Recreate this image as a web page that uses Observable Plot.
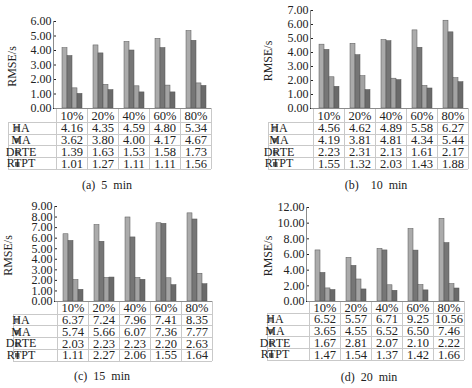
<!DOCTYPE html>
<html><head><meta charset="utf-8">
<script src="https://cdn.jsdelivr.net/npm/d3@7"></script>
<script src="https://cdn.jsdelivr.net/npm/@observablehq/plot@0.6"></script>
<style>
body{margin:0;background:#fff;}
#wrap{position:relative;width:472px;height:388px;font-family:"Liberation Serif","Times New Roman",serif;}
.panel{position:absolute;width:236px;height:194px;}
.cap{position:absolute;font-size:12px;white-space:pre;transform:translateX(-50%);color:#222;line-height:14px;}
</style></head><body><div id="wrap"></div>
<script>
const categories = ["10%","20%","40%","60%","80%"];
const seriesNames = ["HA","MA","DRTE","RTPT"];
const captions = ["(a)  5  min","(b)    10  min","(c)  15  min","(d)  20  min"];
const yLabel = "RMSE/s";

// (a) 5 min
const ha5   = [4.16,4.35,4.59,4.80,5.34];
const ma5   = [3.62,3.80,4.00,4.17,4.67];
const drte5 = [1.39,1.63,1.53,1.58,1.73];
const rtpt5 = [1.01,1.27,1.11,1.11,1.56];
// (b) 10 min
const ha10   = [4.56,4.62,4.89,5.58,6.27];
const ma10   = [4.19,3.81,4.81,4.34,5.44];
const drte10 = [2.23,2.31,2.13,1.61,2.17];
const rtpt10 = [1.55,1.32,2.03,1.43,1.88];
// (c) 15 min
const ha15   = [6.37,7.24,7.96,7.41,8.35];
const ma15   = [5.74,5.66,6.07,7.36,7.77];
const drte15 = [2.03,2.23,2.23,2.20,2.63];
const rtpt15 = [1.11,2.27,2.06,1.55,1.64];
// (d) 20 min
const ha20   = [6.52,5.57,6.71,9.25,10.56];
const ma20   = [3.65,4.55,6.52,6.50,7.46];
const drte20 = [1.67,2.81,2.07,2.10,2.22];
const rtpt20 = [1.47,1.54,1.37,1.42,1.66];

const yMaxes = [6,7,9,12];
const ySteps = [1,1,1,2];

const colors = ["#ababab","#767676","#a3a3a3","#6a6a6a"];
const FONT = '"Liberation Serif","Times New Roman",serif';

const panelSeries = [
  [ha5,ma5,drte5,rtpt5],
  [ha10,ma10,drte10,rtpt10],
  [ha15,ma15,drte15,rtpt15],
  [ha20,ma20,drte20,rtpt20]
];

// layout (pixels)
const layouts = [
  {ox:0,  oy:0,   ml:54, right:213, top:21, base:108, hh:13.7, rh:11.8, tl:8,  sw:7, lab:13, ylx:12, capX:107, capY:178},
  {ox:236,oy:0,   ml:75, right:233, top:10, base:108, hh:13.7, rh:11.8, tl:32, sw:5, lab:11, ylx:32, capX:140, capY:178},
  {ox:0,  oy:194, ml:55, right:213, top:12, base:107, hh:12.5, rh:11.8, tl:13, sw:2, lab:8,  ylx:8,  capX:102, capY:175},
  {ox:236,oy:194, ml:71, right:230, top:13, base:107, hh:11.7, rh:11.8, tl:31, sw:2, lab:8,  ylx:32, capX:133, capY:176}
];

const wrap = document.getElementById("wrap");

panelSeries.forEach((vals, p) => {
  const L = layouts[p];
  const data = [];
  seriesNames.forEach((s, i) => categories.forEach((c, j) => data.push({cat:c, series:s, value:vals[i][j]})));
  const tableBottom = L.base + L.hh + 4*L.rh;
  const H = Math.ceil(tableBottom) + 2;
  const ymax = yMaxes[p], step = ySteps[p];
  const plot = Plot.plot({
    width:236, height:H,
    marginLeft:L.ml, marginRight:236-L.right, marginTop:L.top, marginBottom:H-L.base,
    style:{fontFamily:FONT, fontSize:"12px", color:"#222", background:"transparent", overflow:"visible"},
    fx:{domain:categories, padding:0, axis:null, label:null},
    x:{domain:seriesNames, paddingInner:0, paddingOuter:0.6, axis:null},
    y:{domain:[0,ymax], ticks:d3.range(0,ymax+1e-9,step), tickFormat:d=>d.toFixed(2), tickSize:3, tickPadding:2, label:null},
    color:{domain:seriesNames, range:colors},
    marks:[
      Plot.barY(data, {fx:"cat", x:"series", y:"value", fill:"series", stroke:"#555", strokeWidth:0.5})
    ]
  });
  const div = document.createElement("div");
  div.className = "panel";
  div.style.left = L.ox + "px";
  div.style.top = L.oy + "px";
  div.appendChild(plot);
  wrap.appendChild(div);

  const svgEl = plot.tagName.toLowerCase() === "svg" ? plot : plot.querySelector("svg");
  const svg = d3.select(svgEl);
  const fx = plot.scale("fx");
  const bw = fx.bandwidth;
  const xs = categories.map(c => fx.apply(c));
  const xRight = xs[xs.length-1] + bw;
  const g = svg.append("g").attr("shape-rendering","crispEdges");
  const grid = "#c9c9c9";
  xs.concat([xRight]).forEach(x => {
    g.append("line").attr("x1",Math.round(x)+0.5).attr("x2",Math.round(x)+0.5)
      .attr("y1",L.base).attr("y2",tableBottom).attr("stroke",grid);
  });
  g.append("line").attr("x1",L.tl+0.5).attr("x2",L.tl+0.5)
    .attr("y1",L.base+L.hh).attr("y2",tableBottom).attr("stroke",grid);
  for (let k = 0; k <= 4; k++) {
    const y = Math.round(L.base + L.hh + k*L.rh) + 0.5;
    g.append("line").attr("x1",L.tl).attr("x2",xRight).attr("y1",y).attr("y2",y).attr("stroke",grid);
  }
  g.append("line").attr("x1",L.ml).attr("x2",xRight).attr("y1",L.base+0.5).attr("y2",L.base+0.5).attr("stroke","#8c8c8c");
  g.append("line").attr("x1",L.ml-0.5).attr("x2",L.ml-0.5).attr("y1",L.top).attr("y2",L.base).attr("stroke","#8c8c8c");
  const tg = svg.append("g").attr("font-family",FONT).attr("fill","#222");
  // header row
  categories.forEach(c => {
    tg.append("text").attr("x",Math.round(fx.apply(c)+bw/2)).attr("y",L.base+L.hh/2+1)
      .attr("dy","0.32em").attr("text-anchor","middle").attr("font-size",12.5).text(c);
  });
  // value rows + legend
  seriesNames.forEach((s, i) => {
    const yc = L.base + L.hh + L.rh*i + L.rh/2 + 0.5;
    g.append("rect").attr("x",L.tl+L.sw).attr("y",Math.round(yc-2)).attr("width",4).attr("height",4)
      .attr("fill",colors[i]).attr("stroke","#666").attr("stroke-width",0.5);
    tg.append("text").attr("x",L.tl+L.lab).attr("y",yc).attr("dy","0.32em")
      .attr("font-size",12).text(s);
    categories.forEach((c, j) => {
      tg.append("text").attr("x",Math.round(fx.apply(c)+bw/2)).attr("y",yc).attr("dy","0.32em")
        .attr("text-anchor","middle").attr("font-size",12.5).text(vals[i][j].toFixed(2));
    });
  });
  const ym = (L.top + L.base)/2 + 2;
  tg.append("text").attr("transform",`translate(${L.ylx},${ym}) rotate(-90)`)
    .attr("text-anchor","middle").attr("dy","0.32em").attr("font-size",12).text(yLabel);
  const cap = document.createElement("div");
  cap.className = "cap";
  cap.style.left = L.capX + "px";
  cap.style.top = L.capY + "px";
  cap.textContent = captions[p];
  div.appendChild(cap);
});
</script>
</body></html>
